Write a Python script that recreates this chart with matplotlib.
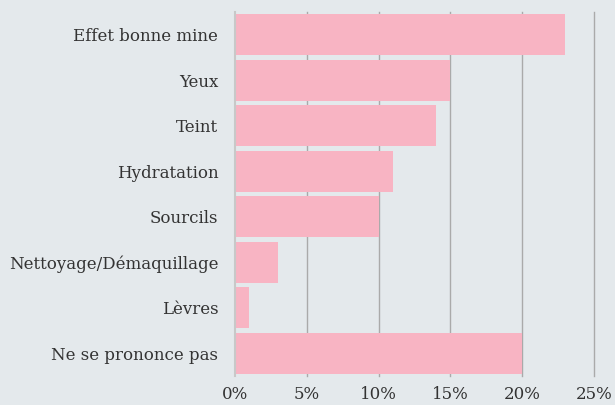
import matplotlib
matplotlib.use("Agg")
import matplotlib.pyplot as plt
from matplotlib.ticker import FuncFormatter

categories = ["Effet bonne mine", "Yeux", "Teint", "Hydratation", "Sourcils",
              "Nettoyage/Démaquillage", "Lèvres", "Ne se prononce pas"]
values = [23, 15, 14, 11, 10, 3, 1, 20]
xticks = [0, 5, 10, 15, 20, 25]

bg = "#e4e9ec"
bar_color = "#f8b4c3"
text_color = "#333333"

plt.rcParams["font.family"] = ["DejaVu Serif"]
fig = plt.figure(figsize=(6.15, 4.05), dpi=100, facecolor=bg)
ax = fig.add_axes([235/615, 1-376/405, (594-235)/615, (376-12)/405])
ax.set_facecolor(bg)

y = list(range(len(categories)))
ax.barh(y, values, height=0.91, color=bar_color, zorder=2)
ax.set_ylim(len(categories) - 0.5, -0.5)
ax.set_xlim(0, 25)
ax.set_xticks(xticks)
ax.xaxis.set_major_formatter(FuncFormatter(lambda v, p: f"{v:.0f}%"))
ax.set_yticks(y)
ax.set_yticklabels(categories)
for t in xticks[1:]:
    ax.axvline(t, color="#aaaaaa", lw=1, zorder=1, clip_on=False)
for s in ["top", "right", "bottom"]:
    ax.spines[s].set_visible(False)
ax.spines["left"].set_color("#c8c8c8")
ax.spines["left"].set_linewidth(1.5)
ax.tick_params(axis="both", length=0, labelsize=12, colors=text_color)
ax.tick_params(axis="y", pad=12)
ax.tick_params(axis="x", pad=7)

fig.savefig("out.png", dpi=100, facecolor=bg)
